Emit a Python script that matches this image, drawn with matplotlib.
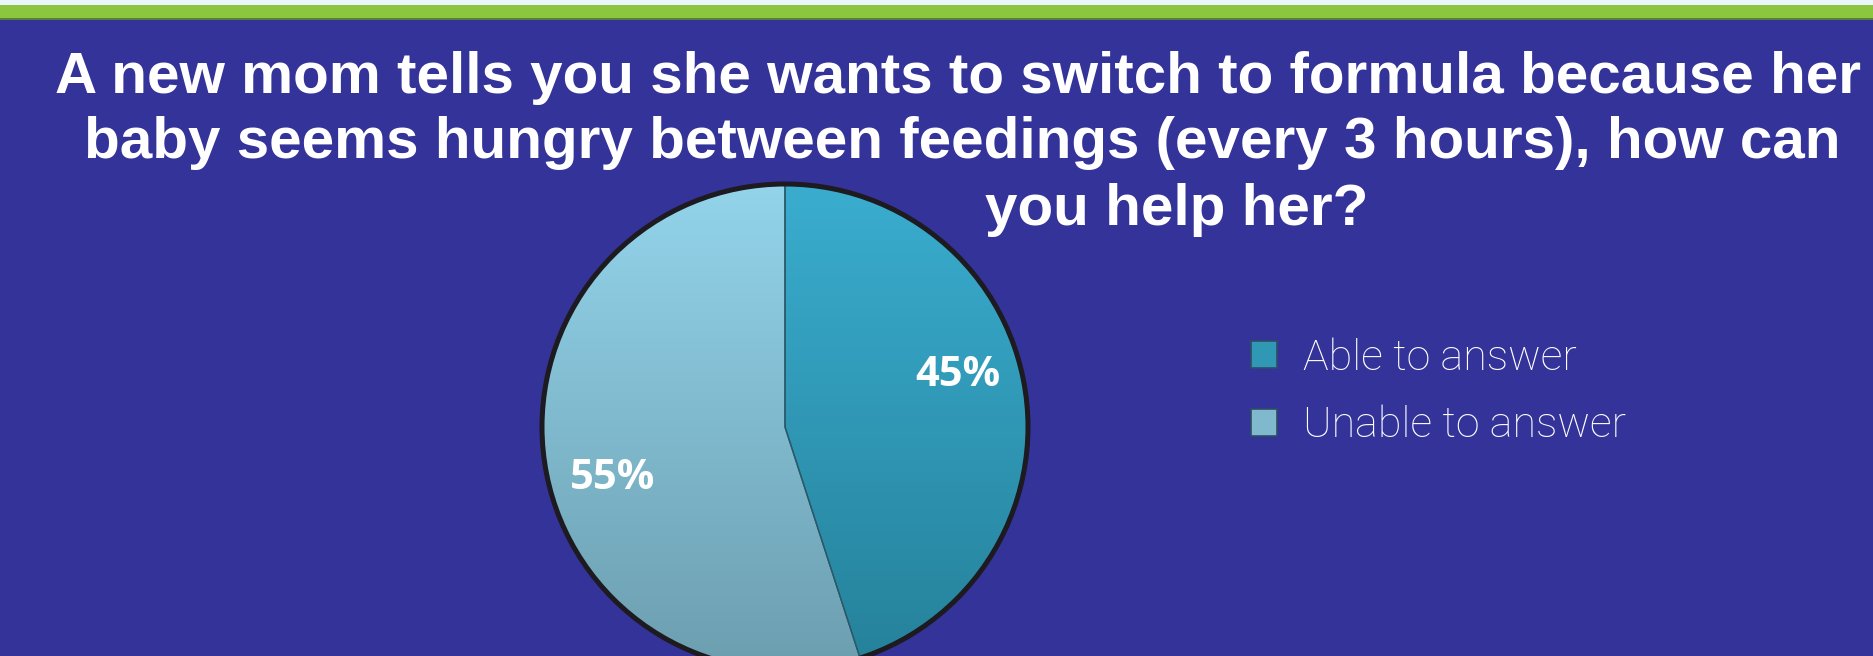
import numpy as np
import matplotlib.pyplot as plt
from matplotlib.patches import Rectangle, Circle, Patch
from matplotlib.colors import LinearSegmentedColormap, to_rgb

# data
labels = ['Able to answer', 'Unable to answer']
values = [45, 55]
top_colors = ['#3aadcf', '#93d4eb']
bottom_colors = ['#25819a', '#6c9eaf']
title_lines = ['A new mom tells you she wants to switch to formula because her',
               'baby seems hungry between feedings (every 3 hours), how can',
               'you help her?']

W, H = 1873, 656
navy = '#343399'
fig = plt.figure(figsize=(W / 100, H / 100), dpi=100, facecolor=navy)

# top strips
fig.patches.append(Rectangle((0, 1 - 5 / H), 1, 5 / H, transform=fig.transFigure,
                             facecolor='#e9f6fc', edgecolor='none'))
fig.patches.append(Rectangle((0, 1 - 18 / H), 1, 13 / H, transform=fig.transFigure,
                             facecolor='#8cc63f', edgecolor='none'))
fig.patches.append(Rectangle((0, 1 - 19.5 / H), 1, 1.5 / H, transform=fig.transFigure,
                             facecolor='#5b7d3c', edgecolor='none'))

# title, line by line
title_x = [958, 962, 1177]
title_y = [93, 158, 225]
for line, x, y in zip(title_lines, title_x, title_y):
    fig.text(x / W, 1 - y / H, line, ha='center', va='baseline', color='white',
             fontsize=42, fontweight='bold', family='Liberation Sans')

# pie
cx, cy, r = 785, 427, 243
ax = fig.add_axes([(cx - r) / W, 1 - (cy + r) / H, 2 * r / W, 2 * r / H])
ax.set_facecolor('none')
wedges, texts, autotexts = ax.pie(values, startangle=90, counterclock=False,
                                  autopct=lambda p: f'{p:.0f}%', pctdistance=0.74,
                                  wedgeprops=dict(facecolor='none', edgecolor='#2a5a6a', linewidth=1),
                                  textprops=dict(color='white', fontsize=30, fontweight='bold',
                                                 family='Open Sans'))
ax.set_xlim(-1, 1)
ax.set_ylim(-1, 1)
ax.axis('off')

grad = np.linspace(0, 1, 256).reshape(-1, 1)
for w, c0, c1 in zip(wedges, top_colors, bottom_colors):
    cmap = LinearSegmentedColormap.from_list('g', [c0, c1])
    im = ax.imshow(grad, extent=(-1, 1, -1, 1), origin='upper', cmap=cmap,
                   aspect='auto', zorder=0)
    im.set_clip_path(w)
    w.set_zorder(1)

# nudge labels a bit like the original
for w, t in zip(wedges, autotexts):
    ang = np.deg2rad((w.theta1 + w.theta2) / 2 + 7.5)
    t.set_position((0.74 * np.cos(ang), 0.74 * np.sin(ang)))
    t.set_zorder(6)

ax.add_patch(Circle((0, 0), 1.0, fill=False, edgecolor='#1d1a20', linewidth=3.6,
                    zorder=5, clip_on=False))

# legend
handles = [Patch(facecolor=(np.array(to_rgb(a)) + np.array(to_rgb(b))) / 2,
                 edgecolor='#2e4d63', linewidth=1.2, label=l)
           for a, b, l in zip(top_colors, bottom_colors, labels)]
leg = fig.legend(handles=handles, loc='center left', bbox_to_anchor=(1251 / W, 1 - 392 / H),
                 frameon=False, borderpad=0, borderaxespad=0,
                 handlelength=0.6, handleheight=0.6, handletextpad=0.6,
                 labelspacing=0.62, prop=dict(family='Roboto', weight='light', size=31))
for t in leg.get_texts():
    t.set_color('white')

fig.savefig('out.png', dpi=100, facecolor=navy)
